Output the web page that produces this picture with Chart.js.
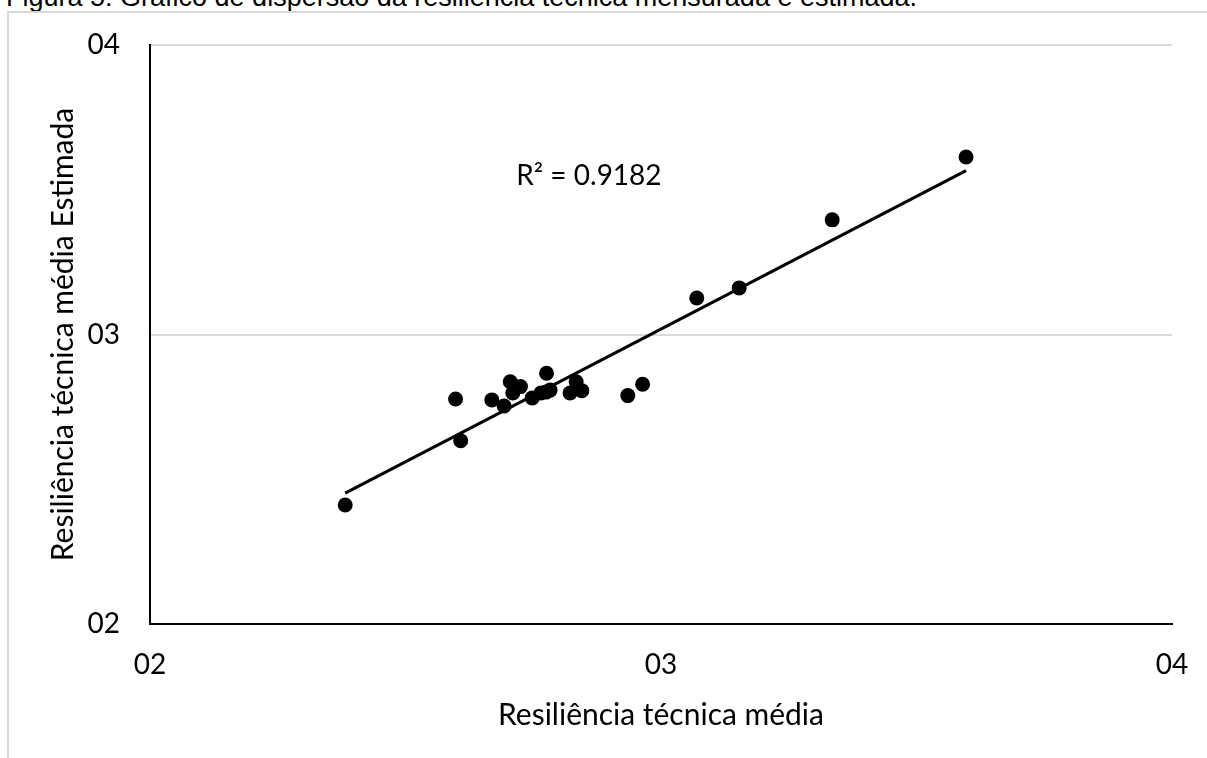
<!DOCTYPE html>
<html>
<head>
<meta charset="utf-8">
<script src="https://cdn.jsdelivr.net/npm/chart.js@4/dist/chart.umd.min.js"></script>
<style>
  html, body { margin: 0; padding: 0; background: #fff; width: 1207px; height: 758px; overflow: hidden; }
  #caption { position: absolute; left: 6px; top: -16px; font-family: "Liberation Sans", Arial, sans-serif; font-size: 27px; line-height: 27px; color: #000; white-space: nowrap; }
  #frame { position: absolute; left: 7px; top: 11px; width: 1300px; height: 900px; border-top: 2px solid #d9d9d9; border-left: 2px solid #d9d9d9; }
  #wrap { position: absolute; left: 0; top: 0; width: 1207px; height: 758px; }
</style>
</head>
<body>
<div id="caption">Figura 5: Gráfico de dispersão da resiliência técnica mensurada e estimada.</div>
<div id="frame"></div>
<div id="wrap"><canvas id="c" width="1207" height="758"></canvas></div>
<script>
// Resiliência técnica média (medida) vs. estimada
const measured  = [2.382, 2.598, 2.608, 2.669, 2.693, 2.705, 2.710, 2.725, 2.748, 2.765, 2.776, 2.775, 2.783, 2.822, 2.834, 2.845, 2.935, 2.964, 3.070, 3.153, 3.335, 3.597];
const estimated = [2.411, 2.777, 2.633, 2.774, 2.753, 2.837, 2.798, 2.820, 2.781, 2.798, 2.866, 2.801, 2.808, 2.798, 2.837, 2.806, 2.789, 2.828, 3.126, 3.161, 3.396, 3.613];
// Linha de tendência
const trendX = [2.382, 3.597];
const trendY = [2.452, 3.566];
const tickValues = [2, 3, 4];
const tickLabels = ["02", "03", "04"];
const r2Text = "R² = 0.9182";
const r2Pos = { x: 2.859, y: 3.547 };
const xTitle = "Resiliência técnica média";
const yTitle = "Resiliência técnica média Estimada";

const FONT = "Lato, 'Open Sans', sans-serif";

const r2Plugin = {
  id: 'r2label',
  afterDatasetsDraw(chart) {
    const {ctx, scales} = chart;
    const px = scales.x.getPixelForValue(r2Pos.x);
    const py = scales.y.getPixelForValue(r2Pos.y);
    ctx.save();
    ctx.font = "28px " + FONT;
    ctx.fillStyle = "#000";
    ctx.textAlign = "center";
    ctx.textBaseline = "middle";
    ctx.fillText(r2Text, px, py);
    ctx.restore();
  }
};

new Chart(document.getElementById('c'), {
  type: 'scatter',
  data: {
    datasets: [
      {
        label: 'Estimada',
        data: measured.map((v, i) => ({ x: v, y: estimated[i] })),
        backgroundColor: '#000',
        borderWidth: 0,
        pointRadius: 7.5,
        pointHoverRadius: 7.5,
        order: 2
      },
      {
        type: 'line',
        label: 'Tendência',
        data: trendX.map((v, i) => ({ x: v, y: trendY[i] })),
        borderColor: '#000',
        borderWidth: 3,
        pointRadius: 0,
        fill: false,
        order: 1
      }
    ]
  },
  options: {
    responsive: false,
    animation: false,
    events: [],
    layout: { padding: { left: 0, right: 35, top: 45, bottom: 0 } },
    plugins: { legend: { display: false }, tooltip: { enabled: false } },
    scales: {
      x: {
        type: 'linear',
        min: 2, max: 4,
        afterBuildTicks(scale) { scale.ticks = tickValues.map(v => ({ value: v })); },
        afterFit(scale) { scale.height = 134; scale.paddingLeft = 0; scale.paddingRight = 0; },
        ticks: {
          callback: (v) => tickLabels[tickValues.indexOf(v)] ?? '',
          font: { family: FONT, size: 28 },
          color: '#000',
          padding: 24,
          maxRotation: 0
        },
        grid: { display: false, drawTicks: false },
        border: { display: true, color: '#000', width: 2 },
        title: {
          display: true, text: xTitle,
          font: { family: FONT, size: 30 },
          color: '#000',
          padding: { top: 0, bottom: 25 }
        }
      },
      y: {
        type: 'linear',
        min: 2, max: 4,
        afterBuildTicks(scale) { scale.ticks = tickValues.map(v => ({ value: v })); },
        afterFit(scale) { scale.width = 150; scale.paddingTop = 0; scale.paddingBottom = 0; },
        ticks: {
          callback: (v) => tickLabels[tickValues.indexOf(v)] ?? '',
          font: { family: FONT, size: 28 },
          color: '#000',
          padding: 30
        },
        grid: { color: '#d9d9d9', lineWidth: 2, drawTicks: false },
        border: { display: true, color: '#000', width: 2 },
        title: {
          display: true, text: yTitle,
          font: { family: FONT, size: 30 },
          color: '#000',
          padding: { top: 45, bottom: 0 }
        }
      }
    }
  },
  plugins: [r2Plugin]
});
</script>
</body>
</html>
